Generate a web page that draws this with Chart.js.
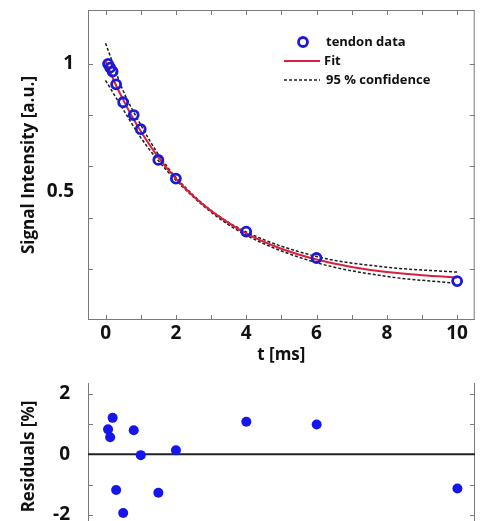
<!DOCTYPE html>
<html><head><meta charset="utf-8">
<script src="https://cdn.jsdelivr.net/npm/chart.js@4/dist/chart.umd.min.js"></script>
<style>
html,body{margin:0;padding:0;background:#fff;overflow:hidden;width:482px;height:521px;position:relative}
#c1{position:absolute;left:0;top:0}
#c2{position:absolute;left:0;top:370px}
</style></head><body>
<canvas id="c1" width="482" height="365"></canvas>
<canvas id="c2" width="482" height="165"></canvas>
<script>
// ---- data ----
const tData = [0.07, 0.13, 0.2, 0.3, 0.5, 0.8, 1, 1.5, 2, 4, 6, 10];
const signal = [1.0, 0.985, 0.97, 0.92, 0.85, 0.80, 0.745, 0.625, 0.552, 0.345, 0.242, 0.152];
const residuals = [0.82, 0.56, 1.2, -1.18, -1.94, 0.79, -0.03, -1.27, 0.13, 1.07, 0.98, -1.13];
const fitT = [0, 0.25, 0.5, 0.75, 1, 1.5, 2, 2.5, 3, 4, 5, 6, 7, 8, 9, 10];
const fitVals = [1.01, 0.93, 0.86, 0.795, 0.737, 0.635, 0.552, 0.483, 0.426, 0.338, 0.278, 0.236, 0.207, 0.187, 0.175, 0.166];
const confT = [0, 0.5, 1, 1.5, 2, 3, 4, 6, 8, 10];
const confUpper = [1.08, 0.895, 0.762, 0.647, 0.557, 0.428, 0.344, 0.248, 0.206, 0.187];
const confLower = [0.935, 0.822, 0.712, 0.622, 0.546, 0.421, 0.331, 0.224, 0.17, 0.143];
const xTickLabels = [0, 2, 4, 6, 8, 10];
const xTickMarks = [0, 1, 2, 3, 4, 5, 6, 7, 8, 9, 10];
const yTickLabels = [0.5, 1];
const yTickMarks = [0.2, 0.4, 0.6, 0.8, 1.0];
const resTickLabels = [-2, 0, 2];
const resTickMarks = [-2, -1, 0, 1, 2];
const legendLabels = ['tendon data', 'Fit', '95 % confidence'];

const pts = (xs, ys) => xs.map((x, i) => ({x, y: ys[i]}));
const FONT = '"Open Sans", Lato, sans-serif';
const FRAME = '#7a7a7a';

const framePlugin = {
  id: 'frame',
  beforeDatasetsDraw(chart, args, o) {
    const {ctx, chartArea: a, scales: {x, y}} = chart;
    ctx.save();
    ctx.strokeStyle = FRAME; ctx.lineWidth = 1;
    ctx.beginPath();
    if (o.top) { ctx.moveTo(a.left, a.top + 0.5); ctx.lineTo(a.right, a.top + 0.5); }
    if (o.bottom) { ctx.moveTo(a.left, a.bottom - 0.5); ctx.lineTo(a.right, a.bottom - 0.5); }
    ctx.moveTo(a.left + 0.5, a.top); ctx.lineTo(a.left + 0.5, a.bottom);
    ctx.moveTo(a.right - 0.5, a.top); ctx.lineTo(a.right - 0.5, a.bottom);
    const L = 5;
    (o.xMarks || []).forEach(v => {
      const p = Math.round(x.getPixelForValue(v)) + 0.5;
      if (o.bottom) { ctx.moveTo(p, a.bottom); ctx.lineTo(p, a.bottom - L); }
      if (o.top) { ctx.moveTo(p, a.top); ctx.lineTo(p, a.top + L); }
    });
    (o.yMarks || []).forEach(v => {
      const p = Math.round(y.getPixelForValue(v)) + 0.5;
      ctx.moveTo(a.left, p); ctx.lineTo(a.left + L, p);
      ctx.moveTo(a.right, p); ctx.lineTo(a.right - L, p);
    });
    ctx.stroke();
    if (o.zero !== undefined) {
      const p = y.getPixelForValue(o.zero);
      ctx.strokeStyle = '#222'; ctx.lineWidth = 2;
      ctx.beginPath(); ctx.moveTo(a.left, p); ctx.lineTo(a.right, p); ctx.stroke();
    }
    ctx.restore();
  }
};

const legendPlugin = {
  id: 'inlegend',
  afterDraw(chart, args, o) {
    if (!o.show) return;
    const {ctx, chartArea: a} = chart;
    const ds = chart.data.datasets;
    const x0 = a.left + 196, x1 = a.left + 232, tx = a.left + 238;
    const rows = [a.top + 32, a.top + 51, a.top + 70];
    ctx.save();
    ctx.font = 'bold 13px ' + FONT;
    ctx.fillStyle = '#111'; ctx.textBaseline = 'middle';
    ctx.beginPath(); ctx.arc(a.left + 215, rows[0], 4.5, 0, Math.PI * 2);
    ctx.strokeStyle = ds[0].borderColor; ctx.lineWidth = ds[0].borderWidth; ctx.stroke();
    ctx.beginPath(); ctx.moveTo(x0, rows[1]); ctx.lineTo(x1, rows[1]);
    ctx.strokeStyle = ds[1].borderColor; ctx.lineWidth = ds[1].borderWidth; ctx.stroke();
    ctx.beginPath(); ctx.setLineDash(ds[2].borderDash); ctx.moveTo(x0, rows[2]); ctx.lineTo(x1, rows[2]);
    ctx.strokeStyle = ds[2].borderColor; ctx.lineWidth = ds[2].borderWidth; ctx.stroke();
    ctx.setLineDash([]);
    ctx.fillText(legendLabels[0], tx, rows[0]);
    ctx.fillText(legendLabels[1], tx - 2, rows[1]);
    ctx.fillText(legendLabels[2], tx, rows[2]);
    ctx.restore();
  }
};

const tickFont = {family: FONT, size: 19, weight: 'bold'};
const titleFont = {family: FONT, size: 17, weight: 'bold'};
const fmt = v => String(v);
const noPad = s => { s.paddingTop = 0; s.paddingBottom = 0; s.paddingLeft = 0; s.paddingRight = 0; };

new Chart(document.getElementById('c1'), {
  type: 'scatter',
  data: {
    datasets: [
      {label: legendLabels[0], data: pts(tData, signal), pointRadius: 4.5, pointBorderWidth: 2.8,
       borderWidth: 2.8, borderColor: '#1a1ad8', backgroundColor: 'rgba(0,0,0,0)', pointHoverRadius: 4.5},
      {label: legendLabels[1], data: pts(fitT, fitVals), showLine: true, pointRadius: 0,
       borderColor: '#d8203f', borderWidth: 2, cubicInterpolationMode: 'monotone'},
      {label: legendLabels[2], data: pts(confT, confUpper), showLine: true, pointRadius: 0,
       borderColor: '#1c1c1c', borderWidth: 1.5, borderDash: [3, 2], cubicInterpolationMode: 'monotone'},
      {label: '', data: pts(confT, confLower), showLine: true, pointRadius: 0,
       borderColor: '#1c1c1c', borderWidth: 1.5, borderDash: [3, 2], cubicInterpolationMode: 'monotone'}
    ]
  },
  options: {
    responsive: false, animation: false, devicePixelRatio: 1,
    layout: {padding: {top: 10, right: 7, left: 0, bottom: 0}},
    plugins: {legend: {display: false}, tooltip: {enabled: false},
      frame: {top: true, bottom: true, xMarks: xTickMarks, yMarks: yTickMarks},
      inlegend: {show: true}},
    scales: {
      x: {type: 'linear', min: -0.5, max: 10.5,
        afterBuildTicks: s => { s.ticks = xTickLabels.map(v => ({value: v})); },
        afterFit: s => { s.height = 45; noPad(s); },
        grid: {display: false}, border: {display: false},
        ticks: {font: tickFont, color: '#111', padding: -6, maxRotation: 0, callback: fmt},
        title: {display: true, text: 't [ms]', font: titleFont, color: '#111', padding: {top: 0, bottom: 0}}},
      y: {type: 'linear', min: 0, max: 1.21,
        afterBuildTicks: s => { s.ticks = yTickLabels.map(v => ({value: v})); },
        afterFit: s => { s.width = 88; noPad(s); },
        grid: {display: false}, border: {display: false},
        ticks: {font: tickFont, color: '#111', padding: 6, callback: fmt},
        title: {display: true, text: 'Signal Intensity [a.u.]', font: titleFont, color: '#111', padding: {top: 19, bottom: 0}}}
    }
  },
  plugins: [framePlugin, legendPlugin]
});

new Chart(document.getElementById('c2'), {
  type: 'scatter',
  data: {
    datasets: [
      {label: 'Residuals', data: pts(tData, residuals), pointRadius: 5, pointHoverRadius: 5,
       borderWidth: 0, backgroundColor: '#1515ec', borderColor: '#1515ec'}
    ]
  },
  options: {
    responsive: false, animation: false, devicePixelRatio: 1,
    layout: {padding: {top: 13, right: 7, left: 0, bottom: 5}},
    plugins: {legend: {display: false}, tooltip: {enabled: false},
      frame: {top: false, bottom: false, yMarks: resTickMarks, zero: 0}},
    scales: {
      x: {type: 'linear', min: -0.5, max: 10.5, display: false},
      y: {type: 'linear', min: -2.5, max: 2.35,
        afterBuildTicks: s => { s.ticks = resTickLabels.map(v => ({value: v})); },
        afterFit: s => { s.width = 88; noPad(s); },
        grid: {display: false}, border: {display: false},
        ticks: {font: tickFont, color: '#111', padding: 10, callback: fmt},
        title: {display: true, text: 'Residuals [%]', font: titleFont, color: '#111', padding: {top: 19, bottom: 0}}}
    }
  },
  plugins: [framePlugin]
});
</script>
</body></html>
